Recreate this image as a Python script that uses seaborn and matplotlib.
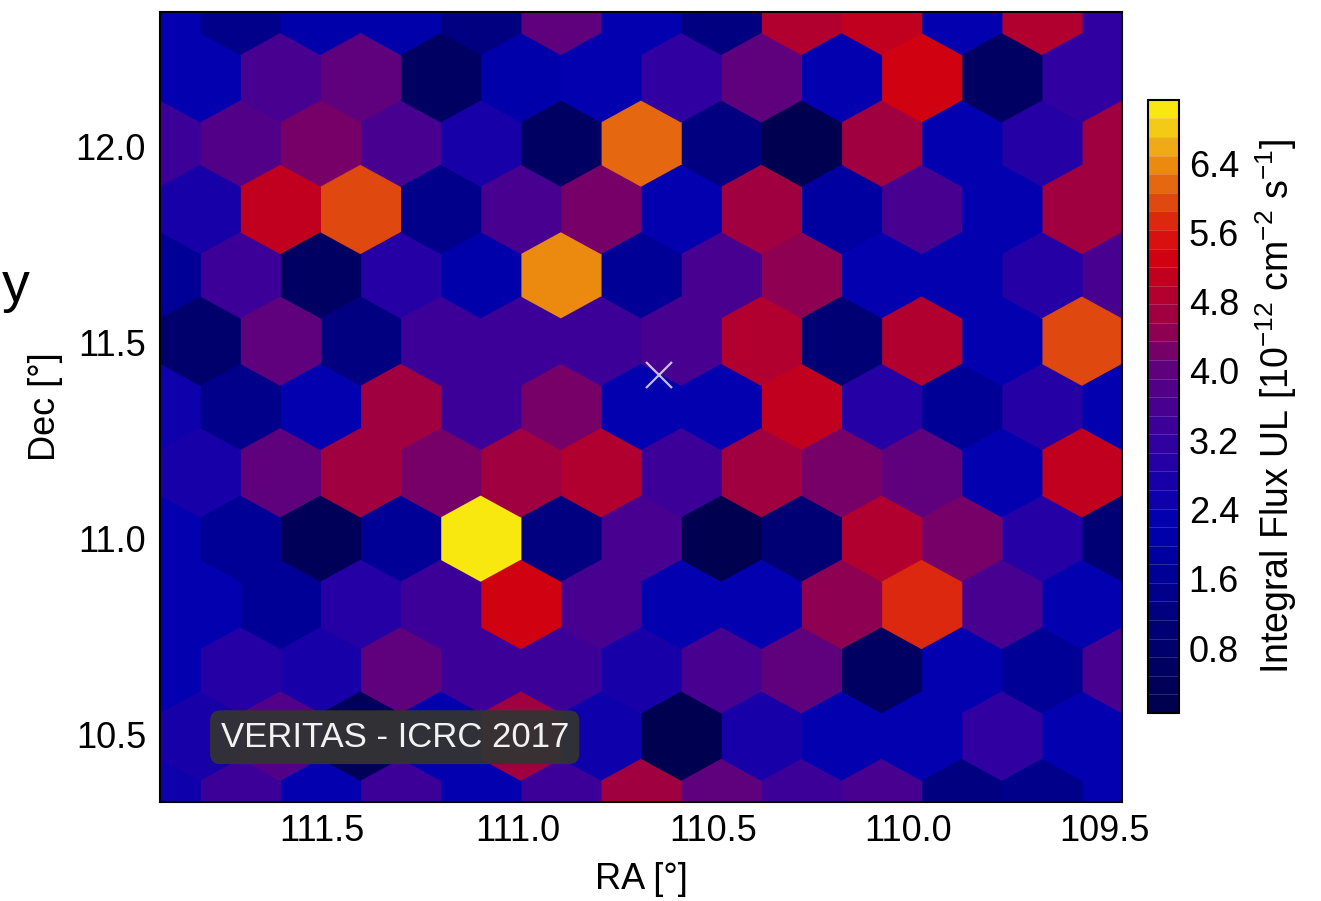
import numpy as np
import matplotlib
matplotlib.use('Agg')
import matplotlib.pyplot as plt
from matplotlib.colors import LinearSegmentedColormap
import seaborn as sns

# map extent in degrees and hexbin grid size
ra_lo, ra_hi = 109.454, 111.914
dec_lo, dec_hi = 10.329, 12.344
n_ra, n_dec = 12, 6

# integral flux UL [1e-12 cm^-2 s^-1], rows top -> bottom, columns left (high RA) -> right
# lattice on grid nodes (7 x 13)
flux_a = [
    [2.2, 1.45, 2.0, 2.0, 1.15, 3.95, 2.25, 1.15, 4.8, 5.1, 2.35, 4.9, 3.1],
    [3.3, 3.75, 4.3, 3.5, 2.7, 0.5, 6.1, 1.3, 0.15, 4.6, 2.35, 3.0, 4.6],
    [1.7, 3.3, 0.5, 2.85, 2.0, 6.45, 1.7, 3.5, 4.45, 2.2, 2.3, 3.0, 3.5],
    [2.5, 1.45, 2.35, 4.6, 3.3, 4.3, 2.2, 2.3, 5.15, 3.0, 1.6, 3.0, 2.3],
    [2.35, 1.6, 0.3, 1.6, 7.13, 1.3, 3.5, 0.15, 1.0, 4.9, 4.3, 2.85, 1.0],
    [2.2, 2.85, 2.8, 3.95, 3.3, 3.3, 2.8, 3.5, 3.95, 0.5, 2.2, 1.6, 3.5],
    [2.5, 3.3, 2.3, 3.3, 2.2, 3.3, 4.6, 3.95, 3.3, 3.6, 1.3, 1.45, 2.2],
]
# offset lattice (6 x 12)
flux_b = [
    [2.2, 3.6, 4.0, 0.5, 2.0, 2.35, 3.1, 3.95, 2.2, 5.4, 0.5, 3.1],
    [2.7, 5.15, 5.85, 1.45, 3.5, 4.3, 2.2, 4.6, 1.8, 3.5, 2.3, 4.6],
    [0.7, 3.95, 1.3, 3.3, 3.3, 3.3, 3.5, 4.9, 1.0, 4.9, 2.35, 5.85],
    [2.7, 3.95, 4.6, 4.15, 4.6, 4.9, 3.3, 4.6, 4.3, 3.95, 2.2, 5.15],
    [2.3, 1.6, 3.0, 3.3, 5.4, 3.5, 2.2, 2.2, 4.45, 5.7, 3.5, 2.35],
    [2.7, 3.7, 0.3, 2.2, 4.6, 2.6, 0.15, 2.8, 2.3, 2.3, 3.1, 2.3],
]

source_ra, source_dec = 110.638, 11.418
flux_min, flux_max = 0.05, 7.13
cbar_ticks = [0.8, 1.6, 2.4, 3.2, 4.0, 4.8, 5.6, 6.4]
ra_ticks = [111.5, 111.0, 110.5, 110.0, 109.5]
dec_ticks = [10.5, 11.0, 11.5, 12.0]

# colour scale anchors (flux value, colour)
cmap_levels = [0.05, 1.0, 1.8, 2.2, 2.7, 3.2, 3.6, 4.0, 4.5, 4.9, 5.35, 5.7, 5.9, 6.2, 6.45, 6.75, 7.13]
cmap_colors = ['#000050', '#000078', '#0000a0', '#0000b0', '#1800a8', '#3400a0', '#480090', '#5c0080',
               '#900050', '#b00030', '#d00010', '#dc1810', '#dc380c', '#e46010', '#ec8810', '#f0b418', '#f8e810']

# hexagon centres from the hexbin lattices
sx = (ra_hi - ra_lo) / n_ra
sy = (dec_hi - dec_lo) / n_dec
ra, dec, flux = [], [], []
for r, row in enumerate(flux_a):
    for k, v in enumerate(row):
        ra.append(ra_lo + (n_ra - k) * sx)
        dec.append(dec_lo + (n_dec - r) * sy)
        flux.append(v)
for r, row in enumerate(flux_b):
    for k, v in enumerate(row):
        ra.append(ra_lo + (n_ra - 1 - k + 0.5) * sx)
        dec.append(dec_lo + (n_dec - 1 - r + 0.5) * sy)
        flux.append(v)

pos = [(l - flux_min) / (flux_max - flux_min) for l in cmap_levels]
cmap = LinearSegmentedColormap.from_list('veritas', list(zip(pos, cmap_colors)), N=33)

sns.set_style('ticks')
plt.rcParams['font.family'] = ['Liberation Sans', 'DejaVu Sans']
plt.rcParams['mathtext.fontset'] = 'custom'
plt.rcParams['mathtext.rm'] = 'Liberation Sans'
plt.rcParams['mathtext.it'] = 'Liberation Sans:italic'
plt.rcParams['axes.edgecolor'] = 'black'
plt.rcParams['axes.labelcolor'] = 'black'
plt.rcParams['text.color'] = 'black'
plt.rcParams['xtick.color'] = 'black'
plt.rcParams['ytick.color'] = 'black'

fig = plt.figure(figsize=(13.21, 9.01), dpi=100)
ax = fig.add_axes([0.1211, 0.1099, 0.7282, 0.8768])

hb = ax.hexbin(ra, dec, C=flux, gridsize=(n_ra, n_dec), extent=(ra_lo, ra_hi, dec_lo, dec_hi),
               cmap=cmap, vmin=flux_min, vmax=flux_max, reduce_C_function=np.mean)

ax.plot(source_ra, source_dec, marker='x', color='white', alpha=0.75, markersize=19, mew=1.6, ls='none')

ax.set_xlim(ra_hi, ra_lo)
ax.set_ylim(dec_lo, dec_hi)
ax.set_xticks(ra_ticks)
ax.set_yticks(dec_ticks)
ax.set_xticklabels([f'{t:.1f}' for t in ra_ticks])
ax.set_yticklabels([f'{t:.1f}' for t in dec_ticks])
ax.tick_params(direction='in', top=True, right=True, length=6, width=1.2, labelsize=26)
ax.tick_params(axis='x', pad=9)
ax.tick_params(axis='y', pad=10)
for s in ax.spines.values():
    s.set_linewidth(1.5)
ax.set_xlabel('RA [°]', fontsize=26, labelpad=9)
ax.set_ylabel('Dec [°]', fontsize=26, labelpad=9)

ax.text(0.244, 0.082, 'VERITAS - ICRC 2017', transform=ax.transAxes, ha='center', va='center',
        fontsize=25, color='#f2f2f2',
        bbox=dict(boxstyle='round,pad=0.3', facecolor='#333333', edgecolor='none', alpha=0.95))

cax = fig.add_axes([0.8690, 0.2087, 0.0235, 0.6804])
cb = fig.colorbar(hb, cax=cax, ticks=cbar_ticks, drawedges=True)
cb.dividers.set_color((1, 1, 1, 0.2))
cb.dividers.set_linewidth(0.6)
cb.outline.set_linewidth(1.5)
cb.ax.set_yticklabels([f'{t:.1f}' for t in cbar_ticks])
cb.ax.tick_params(direction='in', length=7, width=1.2, labelsize=26, pad=7)
cb.set_label(r'Integral Flux UL [10$^{-12}$ cm$^{-2}$ s$^{-1}$]', fontsize=27, labelpad=10)

# stray letter at the left edge of the slide
fig.text(0.001, 0.666, 'y', fontsize=40, ha='left', va='baseline')

fig.savefig('out.png', dpi=100)
